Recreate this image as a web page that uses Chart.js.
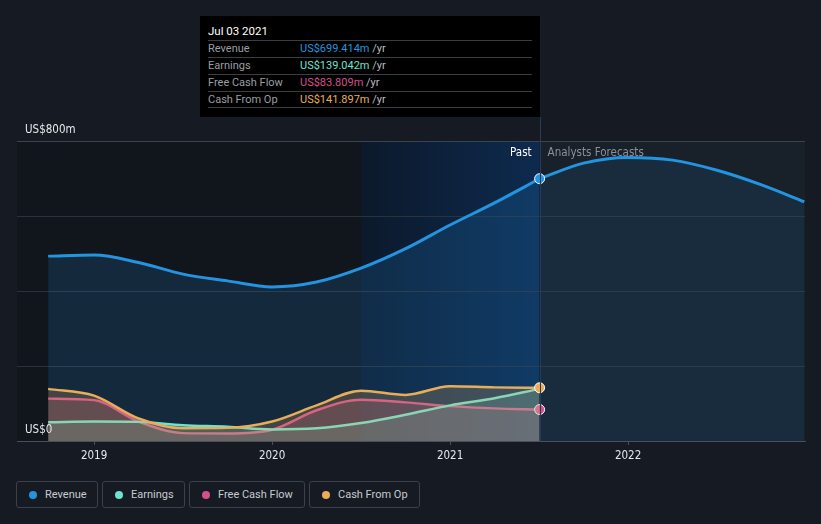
<!DOCTYPE html>
<html>
<head>
<meta charset="utf-8">
<script src="https://cdn.jsdelivr.net/npm/chart.js@4.4.0/dist/chart.umd.min.js"></script>
<style>
  html, body { margin: 0; padding: 0; background: #151a23; }
  body { width: 821px; height: 524px; position: relative; overflow: hidden; font-family: Roboto, "Noto Sans", sans-serif; }
  #wrap { position: absolute; left: 0; top: 0; width: 821px; height: 470px; }
  #tip { position: absolute; left: 200px; top: 16px; width: 340px; height: 101px; background: #000; }
  #tip .title { position: absolute; left: 8px; top: 8px; color: #fff; font-size: 11.5px; }
  #tip .row { position: absolute; left: 8px; width: 324px; height: 16px; border-top: 1px solid #3a3d42; font-size: 11px; }
  #tip .row .lab { position: absolute; left: 0; top: 1px; color: #9a9ea4; }
  #tip .row .val { position: absolute; left: 92px; top: 1px; }
  #tip .row .unit { color: #b8bbc0; }
  #tip .last { position: absolute; left: 8px; width: 324px; top: 91px; border-top: 1px solid #3a3d42; }
  .lg { position: absolute; top: 481px; border: 1px solid #3b404a; border-radius: 3px; box-sizing: border-box; height: 27px; }
  .lg .dot { position: absolute; left: 12px; top: 8.5px; width: 8px; height: 8px; border-radius: 50%; }
  .lg .txt { position: absolute; left: 28px; top: 6px; font-size: 11px; color: #c8cbd0; white-space: nowrap; }
</style>
</head>
<body>
<div id="wrap"><canvas id="c" width="821" height="470"></canvas></div>

<div id="tip">
  <div class="title">Jul 03 2021</div>
  <div class="row" style="top:24px"><span class="lab">Revenue</span><span class="val"><span style="color:#2394df">US$699.414m</span> <span class="unit">/yr</span></span></div>
  <div class="row" style="top:41px"><span class="lab">Earnings</span><span class="val"><span style="color:#6fe2cf">US$139.042m</span> <span class="unit">/yr</span></span></div>
  <div class="row" style="top:58px"><span class="lab">Free Cash Flow</span><span class="val"><span style="color:#d4508d">US$83.809m</span> <span class="unit">/yr</span></span></div>
  <div class="row" style="top:75px"><span class="lab">Cash From Op</span><span class="val"><span style="color:#e9ad5a">US$141.897m</span> <span class="unit">/yr</span></span></div>
  <div class="last"></div>
</div>

<div class="lg" style="left:16px;width:82px"><span class="dot" style="background:#2394df"></span><span class="txt">Revenue</span></div>
<div class="lg" style="left:102px;width:83px"><span class="dot" style="background:#6fe2cf"></span><span class="txt">Earnings</span></div>
<div class="lg" style="left:189px;width:116px"><span class="dot" style="background:#d4508d"></span><span class="txt">Free Cash Flow</span></div>
<div class="lg" style="left:309px;width:111px"><span class="dot" style="background:#e9ad5a"></span><span class="txt">Cash From Op</span></div>

<script>
// ---- data (values in US$ millions, dates as decimal years) ----
const pastDates      = [2018.742, 2019.0, 2019.25, 2019.5, 2019.75, 2020.0, 2020.25, 2020.5, 2020.75, 2021.0, 2021.25, 2021.503];
const revenue        = [493, 496, 476, 445, 427, 411, 424, 461, 513, 576, 635, 699.414];
const earnings       = [50, 52, 51, 42, 38, 31, 34, 48, 70, 95, 114, 139.042];
const freeCashFlow   = [113, 109, 52, 21, 20, 30, 82, 110, 103, 93, 87, 83.809];
const cashFromOp     = [139, 121, 60, 34, 35, 52, 95, 134, 123, 146, 143, 141.897];
const forecastDates  = [2021.503, 2021.75, 2022.0, 2022.25, 2022.5, 2022.75, 2022.99];
const revenueForecast= [699.414, 741, 756, 749, 722, 683, 638];
const xTickYears     = [2019, 2020, 2021, 2022];
const yTickValues    = [0, 200, 400, 600, 800];
const yTickLabels    = {0: "US$0", 800: "US$800m"};
const pastLabel      = "Past";
const forecastLabel  = "Analysts Forecasts";
const highlightStart = 2020.5;
const nowDate        = 2021.503;
const xMin = 2018.567, xMax = 2022.994;

const C = { rev: "#2394df", earn: "#6fe2cf", fcf: "#d4508d", cfo: "#e9ad5a" };
const AXIS_FONT = "'DejaVu Sans Condensed', 'Liberation Sans Narrow', Roboto, sans-serif";

function pts(xs, ys) { return xs.map((x, i) => ({ x: x, y: ys[i] })); }
function lastOnly(n, r) { return (ctx) => ctx.dataIndex === n - 1 ? r : 0; }

const bgPlugin = {
  id: "bg",
  beforeDraw(chart) {
    const { ctx, chartArea: a, scales } = chart;
    const xs = scales.x;
    const h0 = xs.getPixelForValue(highlightStart);
    const n0 = xs.getPixelForValue(nowDate);
    ctx.save();
    ctx.fillStyle = "#11151c";
    ctx.fillRect(a.left, a.top, h0 - a.left, a.bottom - a.top);
    const g = ctx.createLinearGradient(h0, 0, n0, 0);
    g.addColorStop(0, "#0c192b");
    g.addColorStop(1, "#0d2a4e");
    ctx.fillStyle = g;
    ctx.fillRect(h0, a.top, n0 - h0, a.bottom - a.top);
    ctx.fillStyle = "#18202a";
    ctx.fillRect(n0, a.top, a.right - n0, a.bottom - a.top);
    ctx.restore();
  },
  afterDatasetsDraw(chart) {
    const { ctx, chartArea: a, scales } = chart;
    const n0 = scales.x.getPixelForValue(nowDate);
    ctx.save();
    ctx.strokeStyle = "#2a3c55";
    ctx.lineWidth = 1;
    ctx.beginPath();
    ctx.moveTo(Math.round(n0) + 0.5, 117);
    ctx.lineTo(Math.round(n0) + 0.5, a.bottom);
    ctx.stroke();
    ctx.font = "11.5px " + AXIS_FONT;
    ctx.textBaseline = "middle";
    ctx.textAlign = "right";
    ctx.fillStyle = "#ffffff";
    ctx.fillText(pastLabel, n0 - 8, 153);
    ctx.textAlign = "left";
    ctx.fillStyle = "#8b9098";
    ctx.fillText(forecastLabel, n0 + 8, 153);
    ctx.fillStyle = "#e6e8ea";
    ctx.textBaseline = "alphabetic";
    yTickValues.forEach(v => {
      if (yTickLabels[v]) ctx.fillText(yTickLabels[v], 25, scales.y.getPixelForValue(v) - 8);
    });
    ctx.restore();
  }
};

const line = (label, data, color, fillAlpha, n, r, w) => ({
  label, data,
  borderColor: color,
  backgroundColor: color + fillAlpha,
  borderWidth: w,
  fill: "origin",
  cubicInterpolationMode: "monotone",
  pointRadius: lastOnly(n, r),
  pointHoverRadius: 0,
  pointBackgroundColor: color,
  pointBorderColor: "#ffffff",
  pointBorderWidth: 1,
});

new Chart(document.getElementById("c"), {
  type: "line",
  data: {
    datasets: [
      line("Earnings", pts(pastDates, earnings), C.earn, "30", pastDates.length, 0, 2.5),
      line("Free Cash Flow", pts(pastDates, freeCashFlow), C.fcf, "38", pastDates.length, 5, 2.5),
      line("Cash From Op", pts(pastDates, cashFromOp), C.cfo, "38", pastDates.length, 5, 2.5),
      line("Revenue", pts(pastDates, revenue), C.rev, "2a", pastDates.length, 5, 3),
      line("Revenue Forecast", pts(forecastDates, revenueForecast), C.rev, "1c", 0, 0, 3),
    ].map((d, i) => Object.assign(d, { order: [2, 3, 1, 4, 5][i] }))
  },
  options: {
    responsive: false,
    animation: false,
    events: [],
    layout: { padding: { left: 17, right: 16, top: 141, bottom: 0 } },
    plugins: { legend: { display: false }, tooltip: { enabled: false } },
    scales: {
      x: {
        type: "linear", min: xMin, max: xMax,
        afterFit: (s) => { s.height = 29; },
        afterBuildTicks: (s) => { s.ticks = xTickYears.map(v => ({ value: v })); },
        ticks: { color: "#e6e8ea", font: { family: AXIS_FONT, size: 11.5 }, padding: 4, callback: (v) => String(v) },
        grid: { display: true, drawOnChartArea: false, drawTicks: true, tickLength: 4, color: "#4a505a" },
        border: { display: true, color: "#4a505a", width: 1 }
      },
      y: {
        min: 0, max: 800,
        afterBuildTicks: (s) => { s.ticks = yTickValues.map(v => ({ value: v })); },
        ticks: { display: false },
        grid: { drawTicks: false, color: (c) => c.tick && c.tick.value === 800 ? "#3c434e" : (c.tick && c.tick.value === 0 ? "#4a505a" : "#2a323d"), lineWidth: 1 },
        border: { display: false }
      }
    }
  },
  plugins: [bgPlugin]
});
</script>
</body>
</html>
